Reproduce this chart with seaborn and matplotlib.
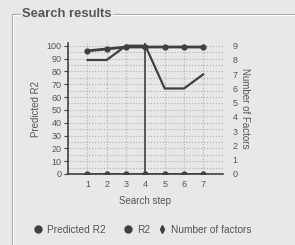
import matplotlib
matplotlib.use("Agg")
import matplotlib.pyplot as plt
import seaborn as sns
import pandas as pd
from matplotlib.lines import Line2D
from matplotlib.ticker import MultipleLocator

steps = [1, 2, 3, 4, 5, 6, 7]
predicted_r2 = [96, 97.5, 99, 99, 99, 99, 99]
r2 = [0, 0, 0, 0, 0, 0, 0]
n_factors = [8, 8, 9, 9, 6, 6, 7]
selected_step = 4
left_ticks = [0, 10, 20, 30, 40, 50, 60, 70, 80, 90, 100]
right_ticks = [0, 1, 2, 3, 4, 5, 6, 7, 8, 9]
legend_labels = ["Predicted R2", "R2", "Number of factors"]

df = pd.DataFrame({"step": steps, "pred": predicted_r2, "r2": r2, "nf": n_factors})

sns.set_theme(style="white")
plt.rcParams["font.family"] = ["Liberation Sans", "DejaVu Sans"]
bg = "#e8e8e8"
dark = "#404040"
txt = "#555555"

fig = plt.figure(figsize=(2.95, 2.45), dpi=100, facecolor=bg)
ax = fig.add_axes([0.2305, 0.2898, 0.5245, 0.534])
ax.set_facecolor(bg)

sns.lineplot(data=df, x="step", y="pred", ax=ax, color=dark, lw=2,
             marker="o", markersize=4.5, markeredgewidth=0)
sns.lineplot(data=df, x="step", y="r2", ax=ax, color=dark, lw=2,
             marker="o", markersize=4.5, markeredgewidth=0)
ax.axvline(selected_step, color=dark, lw=1.2)

ax.set_xlim(0, 8)
ax.set_ylim(0, 102)
ax.set_xticks(steps)
ax.set_xticks([8], minor=True)
ax.set_yticks(left_ticks)
ax.yaxis.set_minor_locator(MultipleLocator(5))
ax.grid(True, which="both", ls=":", color="#b0b0b0", lw=0.8)
ax.set_axisbelow(True)
for s in ["top", "right"]:
    ax.spines[s].set_visible(False)
for s in ["left", "bottom"]:
    ax.spines[s].set_color(dark)
    ax.spines[s].set_linewidth(1.2)
ax.tick_params(axis="both", which="major", labelsize=6.5, colors=dark,
               labelcolor=txt, length=3, width=0.8, direction="out", pad=1.5)
ax.tick_params(axis="y", which="minor", length=0)
ax.tick_params(axis="x", which="minor", length=5, direction="in", color=dark)
ax.set_xlabel("Search step", fontsize=7, color=txt, labelpad=5)
ax.set_ylabel("Predicted R2", fontsize=7, color=txt, labelpad=4)

ax2 = ax.twinx()
sns.lineplot(data=df, x="step", y="nf", ax=ax2, color=dark, lw=1.6)
ax2.set_ylim(0, 9 * 102 / 100)
ax2.set_yticks(right_ticks)
for s in ax2.spines.values():
    s.set_visible(False)
ax2.tick_params(axis="y", labelsize=6.5, labelcolor=txt, length=0, pad=7)
ax2.set_ylabel("Number of Factors", fontsize=7, color=txt, rotation=-90, labelpad=9)
ax2.set_xlim(0, 8)
ax2.set_xlabel("")

W, H = 295, 245
def fx(x): return x / W
def fy(y): return 1 - y / H

handles = [
    Line2D([], [], ls="none", marker="o", color=dark, markersize=5),
    Line2D([], [], ls="none", marker="o", color=dark, markersize=5),
    Line2D([], [], ls="none", marker="d", color=dark, markersize=4),
]
legend_x = [33.7, 124.3, 157.7]
for h, lab, lx in zip(handles, legend_labels, legend_x):
    fig.legend([h], [lab], loc="center left", bbox_to_anchor=(fx(lx), fy(230)),
               frameon=False, fontsize=7.3, labelcolor=txt, handlelength=0.8,
               handletextpad=0.49, borderaxespad=0, borderpad=0)

# group box
for off, col in [(0, "#a8a8a8"), (1, "#ffffff")]:
    fig.add_artist(Line2D([fx(12 + off), fx(12 + off)], [fy(14 + off), fy(245)], color=col, lw=0.8))
    fig.add_artist(Line2D([fx(12 + off), fx(20)], [fy(14 + off), fy(14 + off)], color=col, lw=0.8))
    fig.add_artist(Line2D([fx(113), fx(295)], [fy(14 + off), fy(14 + off)], color=col, lw=0.8))
fig.text(fx(22), fy(14), "Search results", fontsize=9.4, color=txt,
         va="center", ha="left", fontweight="bold")

fig.savefig("out.png", dpi=100, facecolor=bg)
